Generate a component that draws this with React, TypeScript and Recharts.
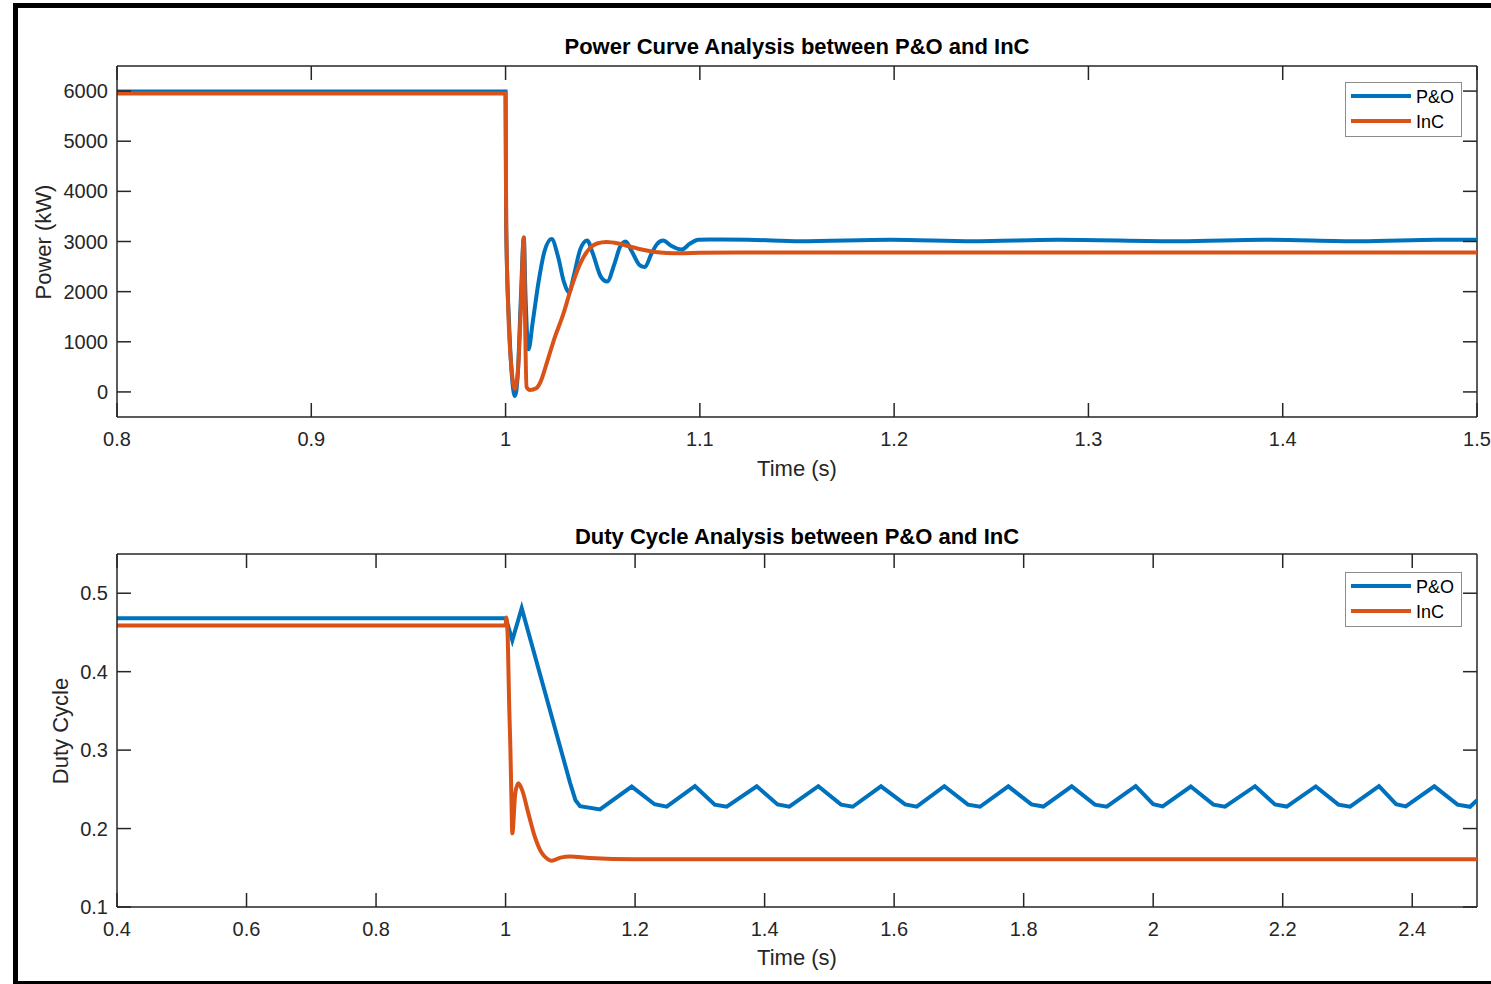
import React from "react";
import { LineChart, Line, XAxis, YAxis, Legend, ReferenceLine } from "recharts";

// axis ticks
const powerTicksX = [0.8, 0.9, 1, 1.1, 1.2, 1.3, 1.4, 1.5];
const powerTicksY = [0, 1000, 2000, 3000, 4000, 5000, 6000];
const dutyTicksX = [0.4, 0.6, 0.8, 1, 1.2, 1.4, 1.6, 1.8, 2, 2.2, 2.4];
const dutyTicksY = [0.1, 0.2, 0.3, 0.4, 0.5];
const seriesNames = ["P&O", "InC"];

// power (kW) vs time (s), read off the figure
const powerPO = [
  { t: 0.8, p: 5990 }, { t: 1.0, p: 5990 }, { t: 1.0003, p: 3300 }, { t: 1.002, p: 1200 },
  { t: 1.0035, p: 200 }, { t: 1.0048, p: -80 }, { t: 1.0062, p: 300 }, { t: 1.0078, p: 1800 },
  { t: 1.0094, p: 3080 }, { t: 1.0102, p: 2000 }, { t: 1.0118, p: 850 }, { t: 1.014, p: 1400 },
  { t: 1.017, p: 2200 }, { t: 1.02, p: 2800 }, { t: 1.0237, p: 3050 }, { t: 1.027, p: 2700 },
  { t: 1.03, p: 2200 }, { t: 1.0327, p: 1990 }, { t: 1.035, p: 2300 }, { t: 1.0385, p: 2850 },
  { t: 1.042, p: 3020 }, { t: 1.045, p: 2750 }, { t: 1.049, p: 2300 }, { t: 1.0523, p: 2200 },
  { t: 1.056, p: 2550 }, { t: 1.059, p: 2900 }, { t: 1.0618, p: 3000 }, { t: 1.065, p: 2800 },
  { t: 1.069, p: 2530 }, { t: 1.0717, p: 2490 }, { t: 1.075, p: 2750 }, { t: 1.078, p: 2950 },
  { t: 1.0811, p: 3020 }, { t: 1.085, p: 2920 }, { t: 1.0906, p: 2840 }, { t: 1.095, p: 2960 },
  { t: 1.0991, p: 3035 }, { t: 1.105, p: 3040 }, { t: 1.125, p: 3035 }, { t: 1.1515, p: 3005 },
  { t: 1.198, p: 3035 }, { t: 1.2405, p: 3005 }, { t: 1.284, p: 3035 }, { t: 1.347, p: 3005 },
  { t: 1.39, p: 3035 }, { t: 1.44, p: 3005 }, { t: 1.48, p: 3035 }, { t: 1.5, p: 3035 },
];

const powerInC = [
  { t: 0.8, p: 5950 }, { t: 1.0, p: 5950 }, { t: 1.0003, p: 3500 }, { t: 1.0015, p: 1500 },
  { t: 1.003, p: 500 }, { t: 1.0048, p: 60 }, { t: 1.0065, p: 500 }, { t: 1.008, p: 1800 },
  { t: 1.0094, p: 3080 }, { t: 1.01, p: 1500 }, { t: 1.0108, p: 100 }, { t: 1.0125, p: 40 },
  { t: 1.016, p: 80 }, { t: 1.018, p: 200 }, { t: 1.021, p: 550 }, { t: 1.025, p: 1050 },
  { t: 1.0297, p: 1550 }, { t: 1.034, p: 2100 }, { t: 1.0383, p: 2550 }, { t: 1.043, p: 2850 },
  { t: 1.047, p: 2960 }, { t: 1.052, p: 2990 }, { t: 1.058, p: 2960 }, { t: 1.064, p: 2900 },
  { t: 1.07, p: 2840 }, { t: 1.076, p: 2795 }, { t: 1.083, p: 2770 }, { t: 1.09, p: 2765 },
  { t: 1.1, p: 2775 }, { t: 1.12, p: 2780 }, { t: 1.5, p: 2780 },
];

// duty cycle vs time (s)
const dutyPO = [
  { t: 0.4, d: 0.468 }, { t: 1.0005, d: 0.468 }, { t: 1.0104, d: 0.44 }, { t: 1.0249, d: 0.481 },
  { t: 1.0995, d: 0.2586 }, { t: 1.108, d: 0.236 }, { t: 1.115, d: 0.2286 }, { t: 1.1458, d: 0.2244 },
  { t: 1.1948, d: 0.2535 },
  { t: 1.23, d: 0.231 }, { t: 1.2488, d: 0.228 }, { t: 1.2925, d: 0.254 },
  { t: 1.323, d: 0.2305 }, { t: 1.3415, d: 0.2278 }, { t: 1.3878, d: 0.2538 },
  { t: 1.42, d: 0.2308 }, { t: 1.4381, d: 0.228 }, { t: 1.4829, d: 0.254 },
  { t: 1.518, d: 0.2305 }, { t: 1.536, d: 0.2278 }, { t: 1.5797, d: 0.2538 },
  { t: 1.617, d: 0.2308 }, { t: 1.6349, d: 0.228 }, { t: 1.6775, d: 0.254 },
  { t: 1.714, d: 0.2305 }, { t: 1.7326, d: 0.2278 }, { t: 1.7763, d: 0.2538 },
  { t: 1.812, d: 0.2308 }, { t: 1.8304, d: 0.228 }, { t: 1.8742, d: 0.2538 },
  { t: 1.91, d: 0.2305 }, { t: 1.9283, d: 0.2278 }, { t: 1.973, d: 0.254 },
  { t: 2.0, d: 0.231 }, { t: 2.0147, d: 0.2282 }, { t: 2.058, d: 0.2536 },
  { t: 2.093, d: 0.2305 }, { t: 2.1109, d: 0.2278 }, { t: 2.1573, d: 0.254 },
  { t: 2.188, d: 0.2308 }, { t: 2.2062, d: 0.228 }, { t: 2.251, d: 0.2537 },
  { t: 2.286, d: 0.2305 }, { t: 2.304, d: 0.2278 }, { t: 2.3487, d: 0.254 },
  { t: 2.375, d: 0.231 }, { t: 2.39, d: 0.2282 }, { t: 2.4341, d: 0.2538 },
  { t: 2.47, d: 0.2305 }, { t: 2.4893, d: 0.2278 }, { t: 2.5, d: 0.236 },
];

const dutyInC = [
  { t: 0.4, d: 0.459 }, { t: 1.0, d: 0.459 }, { t: 1.001, d: 0.469 }, { t: 1.003, d: 0.45 },
  { t: 1.0058, d: 0.35 }, { t: 1.0075, d: 0.3 }, { t: 1.009, d: 0.24 }, { t: 1.0104, d: 0.194 },
  { t: 1.015, d: 0.245 }, { t: 1.0197, d: 0.2577 }, { t: 1.026, d: 0.248 }, { t: 1.035, d: 0.22 },
  { t: 1.045, d: 0.19 }, { t: 1.055, d: 0.17 }, { t: 1.065, d: 0.161 }, { t: 1.0713, d: 0.159 },
  { t: 1.085, d: 0.163 }, { t: 1.0995, d: 0.1645 }, { t: 1.13, d: 0.1625 }, { t: 1.2, d: 0.161 },
  { t: 2.5, d: 0.161 },
];

const BLUE = "#0072BD";
const ORANGE = "#D95319";
const AX = "#262626";
const FONT = "'Liberation Sans', Arial, Helvetica, sans-serif";
const LW = 4;

const PLOT_LEFT = 117;
const PLOT_RIGHT = 1477;
const TICK = 14;

const fmt = (v: number) => String(Number(v.toFixed(2)));

const makeXTick = (top: number, bottom: number) => (props: any) => {
  const { x, payload } = props;
  return (
    <g>
      <line x1={x} x2={x} y1={bottom} y2={bottom - TICK} stroke={AX} strokeWidth={1.5} />
      <line x1={x} x2={x} y1={top} y2={top + TICK} stroke={AX} strokeWidth={1.5} />
      <text x={x} y={bottom + 29} textAnchor="middle" fontSize={20} fontFamily={FONT} fill={AX}>
        {fmt(payload.value)}
      </text>
    </g>
  );
};

const YTick = (props: any) => {
  const { y, payload } = props;
  return (
    <g>
      <line x1={PLOT_LEFT} x2={PLOT_LEFT + TICK} y1={y} y2={y} stroke={AX} strokeWidth={1.5} />
      <line x1={PLOT_RIGHT - TICK} x2={PLOT_RIGHT} y1={y} y2={y} stroke={AX} strokeWidth={1.5} />
      <text x={PLOT_LEFT - 9} y={y + 7} textAnchor="end" fontSize={20} fontFamily={FONT} fill={AX}>
        {fmt(payload.value)}
      </text>
    </g>
  );
};

// legend keeps the plotting order: P&O first, then InC
const LegendBox = (props: any) => {
  const items = [...(props.payload || [])].sort(
    (a: any, b: any) => seriesNames.indexOf(a.value) - seriesNames.indexOf(b.value)
  );
  return (
    <svg width={117} height={55} style={{ display: "block" }}>
      <rect x={0.5} y={0.5} width={116} height={54} fill="#fff" stroke="#8c8c8c" strokeWidth={1} />
      {items.map((it: any, i: number) => (
        <g key={i}>
          <line x1={6} x2={66} y1={14 + i * 25} y2={14 + i * 25} stroke={it.color} strokeWidth={LW} />
          <text x={71} y={21 + i * 25} fontSize={18} fontFamily={FONT} fill="#000">
            {it.value}
          </text>
        </g>
      ))}
    </svg>
  );
};

const PowerChart = () => (
  <LineChart width={1491} height={490} margin={{ top: 66, left: 57, right: 14, bottom: 43 }}>
    <XAxis
      type="number"
      dataKey="t"
      domain={[0.8, 1.5]}
      ticks={powerTicksX}
      interval={0}
      allowDataOverflow
      height={30}
      tickLine={false}
      axisLine={{ stroke: AX, strokeWidth: 1.5 }}
      tick={makeXTick(66, 417)}
    />
    <YAxis
      type="number"
      domain={[-500, 6500]}
      ticks={powerTicksY}
      interval={0}
      allowDataOverflow
      width={60}
      tickLine={false}
      axisLine={{ stroke: AX, strokeWidth: 1.5 }}
      tick={YTick}
    />
    <ReferenceLine y={6500} stroke={AX} strokeWidth={1.5} ifOverflow="visible" />
    <ReferenceLine x={1.5} stroke={AX} strokeWidth={1.5} ifOverflow="visible" />
    <Legend
      layout="horizontal"
      verticalAlign="middle"
      align="center"
      content={LegendBox}
      wrapperStyle={{ position: "absolute", top: 82, left: 1345, width: 117, height: 55 }}
    />
    <Line data={powerPO} dataKey="p" name="P&O" type="monotone" stroke={BLUE} strokeWidth={LW} dot={false} isAnimationActive={false} />
    <Line data={powerInC} dataKey="p" name="InC" type="monotone" stroke={ORANGE} strokeWidth={LW} dot={false} isAnimationActive={false} />
  </LineChart>
);

const DutyChart = () => (
  <LineChart width={1491} height={494} margin={{ top: 64, left: 57, right: 14, bottom: 47 }}>
    <XAxis
      type="number"
      dataKey="t"
      domain={[0.4, 2.5]}
      ticks={dutyTicksX}
      interval={0}
      allowDataOverflow
      height={30}
      tickLine={false}
      axisLine={{ stroke: AX, strokeWidth: 1.5 }}
      tick={makeXTick(64, 417)}
    />
    <YAxis
      type="number"
      domain={[0.1, 0.55]}
      ticks={dutyTicksY}
      interval={0}
      allowDataOverflow
      width={60}
      tickLine={false}
      axisLine={{ stroke: AX, strokeWidth: 1.5 }}
      tick={YTick}
    />
    <ReferenceLine y={0.55} stroke={AX} strokeWidth={1.5} ifOverflow="visible" />
    <ReferenceLine x={2.5} stroke={AX} strokeWidth={1.5} ifOverflow="visible" />
    <Legend
      layout="horizontal"
      verticalAlign="middle"
      align="center"
      content={LegendBox}
      wrapperStyle={{ position: "absolute", top: 82, left: 1345, width: 117, height: 55 }}
    />
    <Line data={dutyPO} dataKey="d" name="P&O" type="linear" stroke={BLUE} strokeWidth={LW} dot={false} isAnimationActive={false} />
    <Line data={dutyInC} dataKey="d" name="InC" type="monotone" stroke={ORANGE} strokeWidth={LW} dot={false} isAnimationActive={false} />
  </LineChart>
);

export default function App() {
  return (
    <div>
      <style>{`body{overflow:hidden}`}</style>
      <div
        style={{
          position: "absolute",
          left: 13,
          top: 3,
          width: 1478,
          height: 981,
          boxSizing: "border-box",
          borderTop: "5px solid #000",
          borderLeft: "5px solid #000",
          borderBottom: "3px solid #000",
          background: "#fff",
        }}
      />
      <div style={{ position: "absolute", left: 0, top: 0, width: 1491, height: 490 }}>
        <PowerChart />
      </div>
      <div style={{ position: "absolute", left: 0, top: 490, width: 1491, height: 494 }}>
        <DutyChart />
      </div>
      <svg
        width={1491}
        height={984}
        style={{ position: "absolute", left: 0, top: 0, pointerEvents: "none" }}
      >
        <text x={797} y={54} textAnchor="middle" fontSize={22} fontWeight="bold" fontFamily={FONT} fill="#000">
          Power Curve Analysis between P&amp;O and InC
        </text>
        <text x={797} y={476} textAnchor="middle" fontSize={22} fontFamily={FONT} fill={AX}>
          Time (s)
        </text>
        <text x={51} y={242} textAnchor="middle" fontSize={22} fontFamily={FONT} fill={AX} transform="rotate(-90 51 242)">
          Power (kW)
        </text>
        <text x={797} y={544} textAnchor="middle" fontSize={22} fontWeight="bold" fontFamily={FONT} fill="#000">
          Duty Cycle Analysis between P&amp;O and InC
        </text>
        <text x={797} y={965} textAnchor="middle" fontSize={22} fontFamily={FONT} fill={AX}>
          Time (s)
        </text>
        <text x={68} y={731} textAnchor="middle" fontSize={22} fontFamily={FONT} fill={AX} transform="rotate(-90 68 731)">
          Duty Cycle
        </text>
      </svg>
    </div>
  );
}
